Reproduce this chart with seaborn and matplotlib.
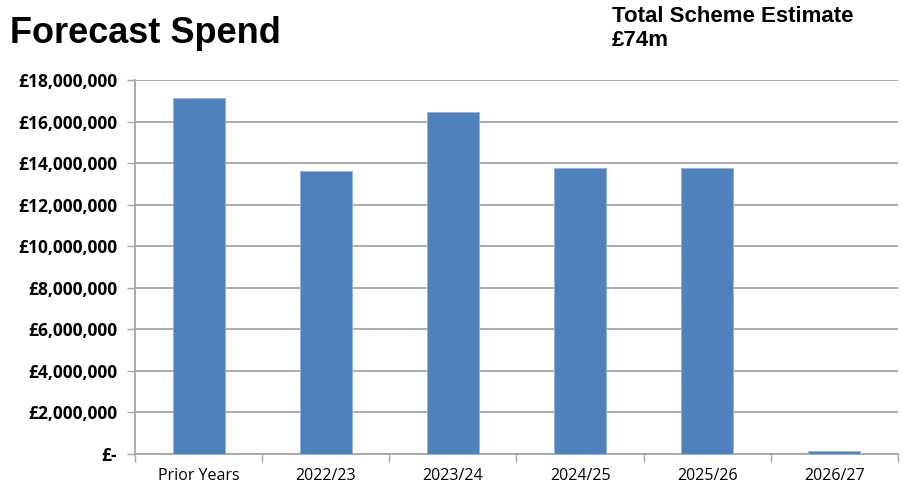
import pandas as pd
import seaborn as sns
import matplotlib.pyplot as plt
from matplotlib.ticker import FuncFormatter, MultipleLocator, FixedLocator

# Chart data
years = ["Prior Years", "2022/23", "2023/24", "2024/25", "2025/26", "2026/27"]
spend = [17150000, 13630000, 16470000, 13780000, 13780000, 150000]

df = pd.DataFrame({"year": years, "spend": spend})

sns.set_theme(style="white")
plt.rcParams["font.family"] = ["Open Sans", "DejaVu Sans"]
plt.rcParams["text.color"] = "black"

fig = plt.figure(figsize=(9.04, 4.87), dpi=100)
ax = fig.add_axes([135 / 904, 1 - 454 / 487, 763 / 904, 374 / 487])

sns.barplot(data=df, x="year", y="spend", color="#4F81BD", saturation=1, width=0.41,
            edgecolor="#8EB4E3", linewidth=0.6, ax=ax, zorder=3)

ax.set_ylim(0, 18000000)
ax.set_xlim(-0.5, len(years) - 0.5)
ax.yaxis.set_major_locator(MultipleLocator(2000000))
ax.yaxis.set_major_formatter(FuncFormatter(lambda v, p: "£-" if v == 0 else f"£{v:,.0f}"))
ax.grid(axis="y", color="#A6A6A6", linewidth=1.3, zorder=0)
ax.set_axisbelow(True)

# category boundary ticks on x axis
ax.xaxis.set_minor_locator(FixedLocator([i - 0.5 for i in range(len(years) + 1)]))
ax.tick_params(axis="x", which="major", length=0, pad=10, labelsize=11.5, labelcolor="black")
ax.tick_params(axis="x", which="minor", length=6, width=1, color="#A6A6A6", direction="out")
ax.tick_params(axis="y", length=6, width=1, color="#A6A6A6", direction="out", pad=7,
               labelsize=12.5, labelcolor="black")
ax.tick_params(bottom=True, left=True, which="both")
for lbl in ax.get_yticklabels():
    lbl.set_fontweight("bold")

for side in ["top", "right"]:
    ax.spines[side].set_visible(False)
for side in ["left", "bottom"]:
    ax.spines[side].set_color("#A6A6A6")
    ax.spines[side].set_linewidth(1.3)

ax.set_xlabel("")
ax.set_ylabel("")

fig.text(10 / 904, 1 - 33 / 487, "Forecast Spend", fontsize=26, fontweight="bold",
         family=["Liberation Sans"], va="center", ha="left", color="black")
fig.text(612 / 904, 1 - 6 / 487, "Total Scheme Estimate\n£74m", fontsize=16,
         fontweight="bold", family=["Liberation Sans"], va="top", ha="left",
         linespacing=1.2, color="black")

fig.savefig("out.png", dpi=100)
